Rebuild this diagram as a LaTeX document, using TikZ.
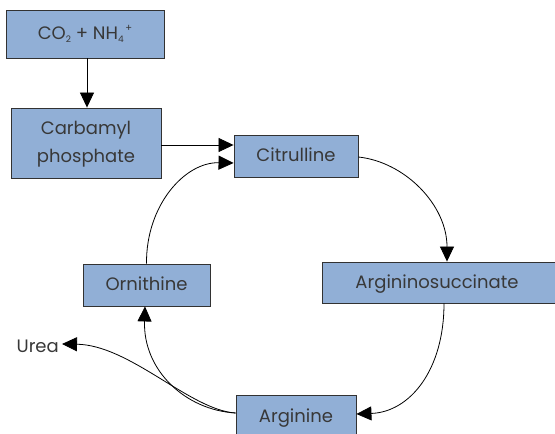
\documentclass[tikz,border=0pt]{standalone}
\usepackage{fontspec}
\setmainfont{Poppins}
\usetikzlibrary{arrows.meta}
\definecolor{boxfill}{RGB}{145,175,214}
\definecolor{boxline}{RGB}{50,50,50}
\newcommand{\labelfont}{\fontsize{18}{28}\selectfont}
\newcommand{\lowered}[1]{\raisebox{-2.5pt}{\begin{tabular}{@{}c@{}}#1\end{tabular}}}
\tikzset{
  stage/.style={draw=boxline, line width=0.9pt, fill=boxfill, inner sep=0pt, align=center, font=\labelfont, text=black!78},
  flow/.style={line width=0.8pt, -{Triangle[length=15pt,width=14pt]}}
}
\begin{document}
\begin{tikzpicture}[x=1pt,y=-1pt]
\useasboundingbox (0,0) rectangle (555,434);
\begin{scope}
\clip (0,0) rectangle (555,434);
\node[stage, minimum width=158pt, minimum height=48pt] (co2) at (85,34) {\lowered{CO\raisebox{-3pt}{\fontsize{9}{9}\selectfont 2} + NH\raisebox{-3pt}{\fontsize{9}{9}\selectfont 4}\raisebox{8pt}{\fontsize{10}{10}\selectfont\,+}}};
\node[stage, minimum width=150pt, minimum height=70pt] (carb) at (86,143) {\lowered{Carbamyl\\phosphate}};
\node[stage, minimum width=124pt, minimum height=42pt] (cit) at (296,156) {\lowered{Citrulline}};
\node[stage, minimum width=236pt, minimum height=41pt] (args) at (440,282.5) {\lowered{\hspace*{-3pt}Argininosuccinate\hspace*{3pt}}};
\node[stage, minimum width=127pt, minimum height=42pt] (orn) at (146.5,285) {\lowered{Ornithine}};
\node[stage, minimum width=120pt, minimum height=44pt] (arg) at (296,417) {\lowered{Arginine}};
\node[font=\labelfont, text=black!78, anchor=east, inner sep=0pt] (urea) at (59,346) {Urea};
\coordinate (ureatip) at (62,344);
\draw[flow] (co2.south -| 87,0) -- (carb.north -| 87,0);
\draw[flow] (carb.east |- 0,145) -- (cit.west |- 0,145);
\draw[flow] (orn.north) .. controls (146,205) and (185,162) .. (cit.west |- 0,163);
\draw[flow] (cit.east |- 0,157) .. controls (405,162) and (447,205) .. (args.north -| 447,0);
\draw[flow] (args.south -| 444,0) .. controls (444,370) and (410,412) .. (arg.east |- 0,414);
\draw[flow] (arg.west |- 0,413) .. controls (185,410) and (143,370) .. (orn.south -| 145,0);
\draw[flow] (arg.west |- 0,413) .. controls (190,410) and (130,345) .. (ureatip);
\end{scope}
\end{tikzpicture}
\end{document}
